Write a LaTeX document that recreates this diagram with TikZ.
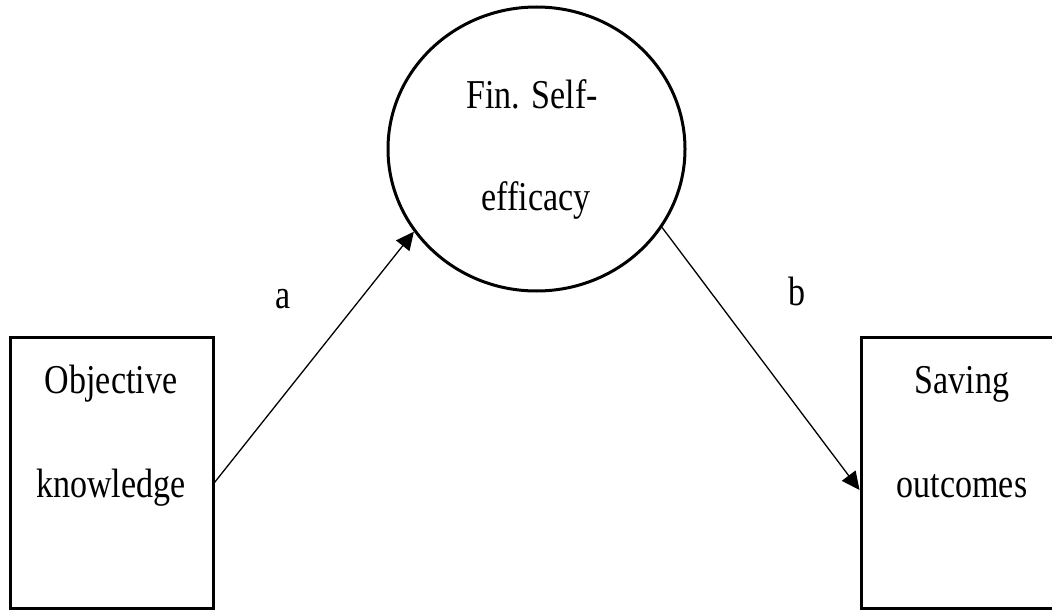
\documentclass[tikz,border=0pt]{standalone}
\usepackage{fontspec}
\setmainfont{Liberation Serif}
\newfontfamily\condserif[FakeStretch=0.83]{Liberation Serif}
\usetikzlibrary{shapes.geometric,arrows.meta}
\tikzset{
  x=1pt,y=1pt,
  boxnode/.style={draw,line width=3pt,rectangle,inner sep=0pt,fill=none},
  ellnode/.style={draw,line width=3pt,ellipse,inner sep=0pt},
  txt/.style={anchor=base,inner sep=0pt,font=\condserif\fontsize{41}{41}\selectfont},
  arr/.style={line width=1.3pt,-{Triangle[length=18pt,width=17pt]}}
}
\begin{document}
\begin{tikzpicture}
\useasboundingbox (0,0) rectangle (1052,-610);
\fill[white] (0,0) rectangle (1052,-610);
\clip (0,0) rectangle (1052,-610);
% nodes
\node[boxnode,minimum width=203,minimum height=271] (ok) at (111.5,-472.5) {};
\node[ellnode,minimum width=297,minimum height=284] (fse) at (536.5,-149) {};
\node[boxnode,minimum width=202,minimum height=271] (so) at (962,-472.5) {};
% texts
\node[txt] (ok1) at (111,-393) {Objective};
\node[txt] (ok2) at (111,-497) {knowledge};
\node[txt] (fse1) at (532,-108) {Fin. Self-};
\node[txt] (fse2) at (536,-210) {efficacy};
\node[txt] (so1) at (962,-393) {Saving};
\node[txt] (so2) at (962,-497) {outcomes};
\node[txt] (la) at (283,-308) {a};
\node[txt] (lb) at (797,-305) {b};
% connectors
\draw[arr] ([yshift=-10pt]ok.east) -- (fse.214.7);
\draw[arr] (fse.328.7) -- ([yshift=-17.5pt]so.west);
\end{tikzpicture}
\end{document}
